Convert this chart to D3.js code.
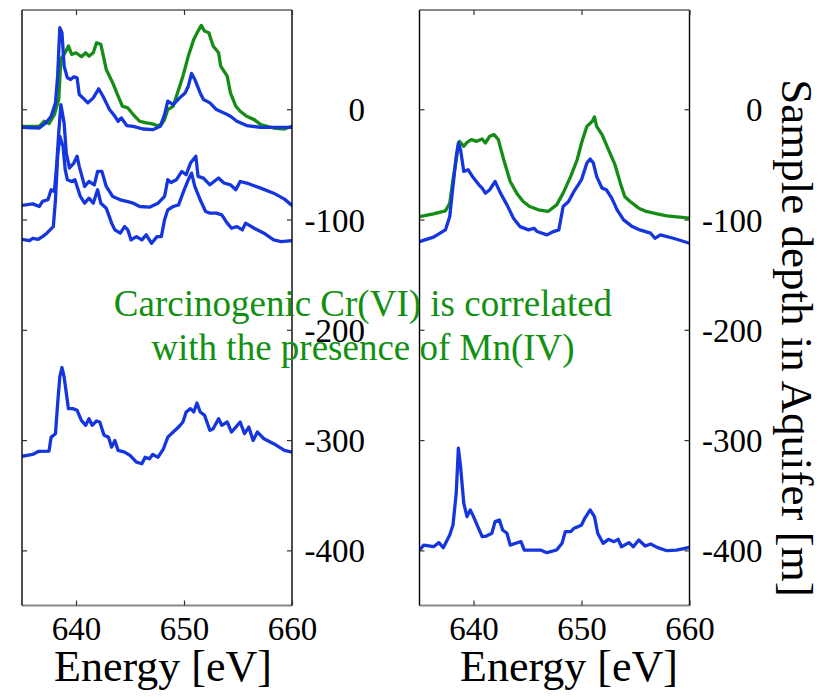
<!DOCTYPE html>
<html><head><meta charset="utf-8">
<script src="https://cdn.jsdelivr.net/npm/d3@7"></script>
<style>body{margin:0;background:#fff}svg{display:block}</style>
</head><body>
<script>
// ---- data (energy [eV], offset signal in depth units [m]) ----
const xTicks = [640, 650, 660];
const yTicks = [0, -100, -200, -300, -400];
const xLabel = "Energy [eV]";
const yLabel = "Sample depth in Aquifer [m]";
const note = ["Carcinogenic Cr(VI) is correlated", "with the presence of Mn(IV)"];

const leftGreen = [[634.9,-15.5],[636.6,-15.5],[637.05,-10.9],[637.5,-13],[638.0,-4.8],[638.4,8.8],[638.6,45.8],[638.9,49.7],[639.3,57.3],[639.6,49.7],[640.0,51.2],[640.5,47.6],[640.9,51.2],[641.2,48.2],[641.6,51.2],[641.9,60.3],[642.3,58.8],[642.8,36.1],[643.4,23.9],[643.9,11.8],[644.3,2.7],[644.8,1.2],[645.3,-4.8],[645.9,-10.9],[646.5,-12.4],[647.0,-13.0],[647.5,-14.8],[647.9,-13.9],[648.2,-9.4],[648.5,-0.3],[649.0,2.7],[649.5,17.9],[649.9,30],[650.4,48.2],[650.9,63.3],[651.3,70.9],[651.6,76],[651.9,70.9],[652.3,69.4],[652.7,57.3],[653.2,51.2],[653.4,39.1],[654.0,30],[654.3,14.8],[654.8,2.7],[655.2,-1.8],[655.8,-6.4],[656.5,-9.4],[657.1,-13.9],[658.3,-17],[659.3,-17.9],[660,-15.5]];

const leftBlue1 = [[634.9,-16.4],[636.6,-17],[637.2,-12.4],[637.7,-6.4],[638.1,5.8],[638.3,30],[638.5,73.9],[638.7,69.4],[638.9,39.1],[639.2,28.5],[639.5,27],[639.8,29.4],[640.1,28.5],[640.3,13.3],[640.8,8.8],[641.1,5.8],[641.6,10.3],[642.1,18.5],[642.5,11.8],[643.1,-0.3],[643.6,-6.4],[643.9,-10.9],[644.2,-7.9],[644.7,-14.8],[645.3,-15.5],[646.2,-17.9],[647.1,-18.5],[647.8,-15.5],[648.2,-4.8],[648.5,7.3],[649.0,4.2],[649.6,10.3],[650.1,14.8],[650.4,20.9],[650.7,32.4],[651.0,27],[651.5,14.8],[651.8,8.8],[652.4,5.8],[653.0,-0.3],[653.7,-3.3],[654.3,-6.4],[654.9,-10.9],[655.8,-14.8],[657.1,-16.4],[660,-16.4]];

const leftBlue2 = [[634.9,-87.3],[636.0,-85.8],[636.6,-88.2],[636.9,-83.6],[637.4,-82.1],[637.7,-73],[638.0,-74.5],[638.2,-51.8],[638.4,-21.5],[638.6,4.2],[638.9,-12.4],[639.1,-39.7],[639.4,-53.3],[639.8,-48.8],[640.1,-42.7],[640.3,-51.8],[640.8,-70],[641.2,-65.5],[641.7,-68.5],[642.0,-56.4],[642.4,-56.4],[642.8,-70],[643.4,-79.1],[644.1,-82.1],[644.7,-83.6],[645.3,-85.2],[645.9,-88.2],[646.8,-88.8],[647.6,-85.2],[648.2,-79.1],[648.5,-63.9],[648.8,-66.4],[649.3,-63.9],[649.8,-56.4],[650.2,-59.4],[650.6,-48.8],[651.1,-42.7],[651.3,-60.9],[651.8,-62.4],[652.4,-68.5],[653.2,-62.4],[653.7,-66.9],[654.3,-68.5],[654.8,-73],[655.2,-65.5],[655.8,-66.9],[657.1,-71.5],[658.3,-76.1],[659.3,-81.5],[660,-87.3]];

const leftBlue3 = [[634.9,-117.9],[635.7,-119.1],[636.0,-117],[636.5,-117.9],[636.9,-115.5],[637.3,-112.4],[637.6,-109.4],[637.9,-106.4],[638.1,-82.1],[638.3,-42.7],[638.5,-24.5],[638.8,-33.6],[639.0,-54.8],[639.2,-63.9],[639.6,-65.5],[639.9,-63.9],[640.4,-79.1],[640.8,-85.2],[641.2,-80.6],[641.6,-85.2],[642.0,-73],[642.3,-85.2],[642.8,-89.7],[643.3,-103.3],[643.6,-109.4],[644.1,-112.4],[644.5,-106.4],[644.8,-109.4],[645.1,-118.5],[645.6,-115.5],[646.1,-118.5],[646.5,-113.9],[647.0,-121.5],[647.5,-115.5],[647.9,-115.5],[648.2,-100.3],[648.5,-91.2],[649.0,-88.2],[649.5,-86.7],[649.9,-76.1],[650.4,-63.9],[650.7,-57.9],[651.0,-70],[651.5,-82.1],[652.0,-92.7],[652.4,-94.2],[653.0,-94.2],[653.5,-95.8],[654.0,-103.3],[654.4,-107.9],[654.9,-106.4],[655.4,-109.4],[655.7,-103.3],[656.5,-107.9],[657.4,-112.4],[658.3,-118.5],[659.0,-120],[660,-119.1]];

const leftBlue4 = [[634.9,-314.8],[636.0,-313],[636.5,-310.3],[637.5,-310],[637.7,-297.3],[638.1,-294.2],[638.3,-266.9],[638.5,-242.7],[638.7,-234.2],[638.9,-242.7],[639.3,-271.5],[639.7,-271.5],[640.1,-273],[640.5,-282.1],[640.9,-286.6],[641.2,-280.6],[641.5,-286.6],[641.9,-282.7],[642.2,-283.6],[642.6,-295.7],[643.0,-297.3],[643.3,-306.4],[643.6,-300.3],[643.9,-309.4],[644.5,-310.9],[645.0,-313.9],[645.6,-320],[646.1,-321.5],[646.4,-315.5],[646.8,-317],[647.1,-313],[647.6,-315.5],[648.1,-307.9],[648.5,-297.3],[649.0,-292.7],[649.5,-288.2],[649.9,-283.6],[650.2,-274.5],[650.6,-271.5],[650.9,-274.5],[651.2,-266.4],[651.5,-274.5],[651.9,-277.5],[652.4,-291.2],[652.7,-289.7],[653.2,-280.6],[653.5,-286.6],[654.0,-283.6],[654.4,-292.7],[654.8,-288.2],[655.2,-283.6],[655.6,-294.2],[656.0,-288.2],[656.4,-300.3],[656.8,-292.7],[657.4,-298.8],[658.3,-303.3],[659.3,-309.4],[660,-310.9]];

const rightGreen = [[635.0,-97.3],[636.3,-94.8],[637.4,-92.1],[637.8,-85.2],[638.1,-63.9],[638.5,-39.7],[638.7,-29.1],[639.1,-33.6],[639.4,-30],[639.8,-27.6],[640.3,-29.1],[640.8,-27],[641.1,-30.6],[641.5,-24.5],[641.9,-23],[642.3,-27.6],[642.8,-45.8],[643.4,-65.5],[644.0,-76.1],[644.6,-83.6],[645.2,-88.2],[646.0,-91.2],[646.9,-92.7],[647.7,-86.7],[648.3,-76.1],[649.0,-60.9],[649.6,-45.8],[650.0,-30.6],[650.5,-15.5],[651.0,-10.9],[651.2,-7],[651.4,-15.5],[651.9,-23],[652.5,-36.7],[653.1,-50.3],[653.6,-67],[654.0,-79.1],[654.5,-83.6],[655.3,-89.7],[656.0,-92.7],[657.0,-94.8],[657.9,-96.7],[660,-98.8]];

const rightBlue1 = [[635.0,-120],[636.3,-116],[637.4,-109.4],[637.8,-97.3],[638.1,-70],[638.4,-42.7],[638.6,-30.6],[638.8,-36.7],[639.1,-56.4],[639.5,-54.8],[639.9,-60.9],[640.5,-68.5],[640.8,-71.5],[641.1,-76.1],[641.5,-73],[642.0,-65.5],[642.5,-76.1],[643.1,-86.7],[643.7,-98.8],[644.3,-106.4],[645.1,-109.4],[645.6,-107.9],[645.9,-110.9],[646.8,-113.9],[647.4,-110.9],[647.9,-109.4],[648.3,-88.2],[648.8,-83.6],[649.3,-74.5],[649.7,-68.5],[650.0,-63.9],[650.5,-48.8],[650.8,-45.2],[651.1,-48.8],[651.4,-60.9],[651.9,-71.5],[652.3,-73],[652.8,-80.6],[653.3,-91.2],[653.9,-100.3],[654.7,-106.4],[655.4,-109.4],[656.4,-112.4],[656.8,-117],[657.3,-113.9],[658.5,-117],[660,-121.5]];

const rightBlue2 = [[635.0,-399.7],[635.4,-395.2],[636.3,-396.7],[636.8,-393],[637.2,-397.6],[637.8,-386.1],[638.1,-377],[638.4,-348.2],[638.6,-307.3],[638.8,-323.9],[639.1,-357.3],[639.4,-369.4],[639.7,-363.3],[640.0,-369.4],[640.4,-378.5],[640.8,-387.6],[641.2,-387],[641.7,-384.5],[642.0,-373.9],[642.4,-372.4],[642.7,-381.5],[643.1,-384.5],[643.4,-395.2],[643.9,-393.6],[644.4,-392.1],[644.7,-399.7],[645.4,-399.7],[646.2,-399.7],[646.8,-402.1],[647.7,-399.7],[648.2,-393.6],[648.5,-383],[649.0,-383],[649.3,-380],[649.7,-378.5],[650.0,-377],[650.3,-370.9],[650.8,-363.3],[651.2,-369.4],[651.5,-384.5],[652.0,-393.6],[652.5,-390],[653.0,-392.1],[653.4,-390],[653.7,-396.7],[654.4,-393],[654.8,-396.7],[655.3,-390.6],[655.9,-396.1],[656.4,-394.2],[657.0,-397.3],[657.9,-400.3],[658.8,-399.7],[660,-397.3]];

const BLUE = "#1436dc", GREEN = "#158c15";
const panels = [
  {x0: 22, x1: 292, series: [[leftGreen, GREEN], [leftBlue1, BLUE], [leftBlue2, BLUE], [leftBlue3, BLUE], [leftBlue4, BLUE]], labelX: 163},
  {x0: 419.5, x1: 689.5, series: [[rightGreen, GREEN], [rightBlue1, BLUE], [rightBlue2, BLUE]], labelX: 569}
];

const W = 822, H = 697, TOP = 10, BOT = 605.5;
const FONT = "'Liberation Serif', 'Times New Roman', serif";
const svg = d3.select("body").append("svg").attr("width", W).attr("height", H)
  .style("font-family", FONT);

const y = d3.scaleLinear().domain([-450, 90]).range([BOT, TOP]);
const fmt = d => String(d);   // plain hyphen-minus, as in the reference

panels.forEach(p => {
  const x = d3.scaleLinear().domain([635, 660]).range([p.x0, p.x1]);
  const g = svg.append("g");
  const clipId = "clip" + Math.round(p.x0);
  svg.append("clipPath").attr("id", clipId).append("rect")
    .attr("x", p.x0).attr("y", TOP).attr("width", p.x1 - p.x0).attr("height", BOT - TOP);

  const line = d3.line().x(d => x(d[0])).y(d => y(d[1]));
  const lg = g.append("g").attr("clip-path", `url(#${clipId})`);
  p.series.forEach(([data, col]) => {
    lg.append("path").datum(data).attr("d", line)
      .attr("fill", "none").attr("stroke", col).attr("stroke-width", 3.3)
      .attr("stroke-linejoin", "round").attr("stroke-linecap", "round");
  });

  // frame: top/bottom gray, left/right black
  g.append("line").attr("x1", p.x0).attr("x2", p.x1).attr("y1", TOP).attr("y2", TOP)
    .attr("stroke", "#888").attr("stroke-width", 2.2);
  g.append("line").attr("x1", p.x0).attr("x2", p.x1).attr("y1", BOT).attr("y2", BOT)
    .attr("stroke", "#888").attr("stroke-width", 2.2);
  g.append("line").attr("x1", p.x0).attr("x2", p.x0).attr("y1", TOP).attr("y2", BOT)
    .attr("stroke", "#000").attr("stroke-width", 1.4);
  g.append("line").attr("x1", p.x1).attr("x2", p.x1).attr("y1", TOP).attr("y2", BOT)
    .attr("stroke", "#000").attr("stroke-width", 1.4);

  // bottom axis with inward ticks and labels
  const bx = d3.axisBottom(x).tickValues(xTicks).tickSize(-5).tickPadding(11).tickFormat(fmt);
  const bAx = g.append("g").attr("transform", `translate(0,${BOT})`).call(bx);
  bAx.select(".domain").remove();
  bAx.selectAll(".tick line").attr("stroke", "#333").attr("stroke-width", 1.2);
  bAx.selectAll(".tick text").attr("font-size", 33).attr("font-family", FONT).attr("fill", "#000")
    .attr("dy", "0.71em");
  // top ticks
  const tx = d3.axisTop(x).tickValues(xTicks).tickSize(-5).tickFormat("");
  const tAx = g.append("g").attr("transform", `translate(0,${TOP})`).call(tx);
  tAx.select(".domain").remove();
  tAx.selectAll(".tick line").attr("stroke", "#333").attr("stroke-width", 1.2);

  // left ticks (no labels)
  const ly = d3.axisLeft(y).tickValues(yTicks).tickSize(-5).tickFormat("");
  const lAx = g.append("g").attr("transform", `translate(${p.x0},0)`).call(ly);
  lAx.select(".domain").remove();
  lAx.selectAll(".tick line").attr("stroke", "#333").attr("stroke-width", 1.2);
  // right ticks with labels
  const ry = d3.axisRight(y).tickValues(yTicks).tickSize(-5).tickFormat(fmt);
  const rAx = g.append("g").attr("transform", `translate(${p.x1},0)`).call(ry);
  rAx.select(".domain").remove();
  rAx.selectAll(".tick line").attr("stroke", "#333").attr("stroke-width", 1.2);
  rAx.selectAll(".tick text").attr("font-size", 33).attr("font-family", FONT).attr("fill", "#000")
    .attr("text-anchor", "end").attr("x", 73).attr("dy", "0.35em");

  svg.append("text").attr("x", p.labelX).attr("y", 681).attr("text-anchor", "middle")
    .attr("font-size", 44).attr("fill", "#000").text(xLabel);
});

// right-hand axis title (rotated, reading downward)
svg.append("text").attr("transform", "translate(782,338) rotate(90)")
  .attr("text-anchor", "middle").attr("font-size", 45).attr("fill", "#000").text(yLabel);

// annotation
const ann = svg.append("text").attr("text-anchor", "middle").attr("font-size", 37).attr("fill", "#119011");
note.forEach((t, i) => ann.append("tspan").attr("x", 363).attr("y", 316 + i * 44).text(t));
</script>
</body></html>
